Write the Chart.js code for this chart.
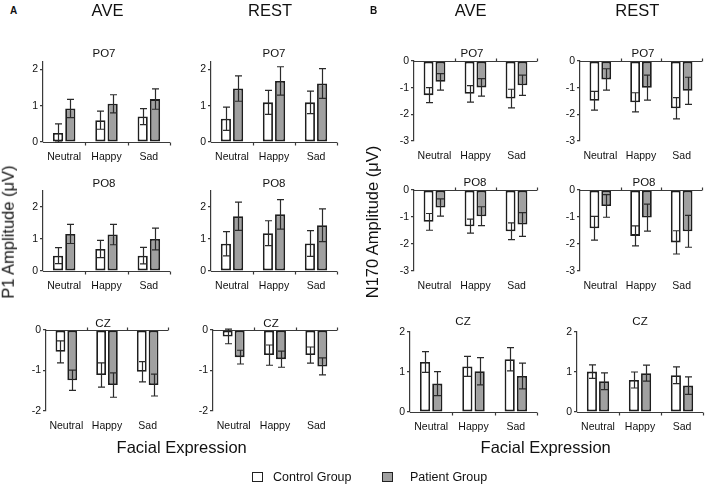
<!DOCTYPE html>
<html>
<head>
<meta charset="utf-8">
<script src="https://cdn.jsdelivr.net/npm/chart.js@4.4.0/dist/chart.umd.min.js"></script>
<style>
  body { margin: 0; width: 708px; height: 487px; position: relative; overflow: hidden; background: #fff;
         font-family: "Liberation Sans", Arial, sans-serif; color: #111; }
  .t { position: absolute; white-space: nowrap; line-height: 1; transform: translate(-50%, -50%); }
  .l { transform: translate(0, -50%); }
  .rot { transform: translate(-50%, -50%) rotate(-90deg); }
  canvas { position: absolute; }
  .box { position: absolute; width: 9px; height: 8px; border: 1.5px solid #222; }
</style>
</head>
<body>
<script>
// categories and groups
const categories = ['Neutral', 'Happy', 'Sad'];
const groups = ['Control Group', 'Patient Group'];

// P1 amplitude (uV), mean and error
const p1AvePo7Control = [0.25, 0.60, 0.70];
const p1AvePo7ControlErr = [0.25, 0.25, 0.22];
const p1AvePo7Patient = [0.92, 1.05, 1.18];
const p1AvePo7PatientErr = [0.25, 0.25, 0.28];

const p1RestPo7Control = [0.64, 1.09, 1.09];
const p1RestPo7ControlErr = [0.32, 0.33, 0.31];
const p1RestPo7Patient = [1.47, 1.68, 1.61];
const p1RestPo7PatientErr = [0.35, 0.39, 0.41];

const p1AvePo8Control = [0.48, 0.69, 0.48];
const p1AvePo8ControlErr = [0.25, 0.27, 0.26];
const p1AvePo8Patient = [1.16, 1.14, 1.00];
const p1AvePo8PatientErr = [0.30, 0.32, 0.34];

const p1RestPo8Control = [0.85, 1.18, 0.86];
const p1RestPo8ControlErr = [0.38, 0.39, 0.40];
const p1RestPo8Patient = [1.71, 1.77, 1.43];
const p1RestPo8PatientErr = [0.44, 0.46, 0.51];

const p1AveCzControl = [-0.54, -1.11, -1.03];
const p1AveCzControlErr = [0.27, 0.30, 0.25];
const p1AveCzPatient = [-1.24, -1.36, -1.36];
const p1AveCzPatientErr = [0.25, 0.30, 0.27];

const p1RestCzControl = [-0.16, -0.62, -0.62];
const p1RestCzControlErr = [0.18, 0.25, 0.20];
const p1RestCzPatient = [-0.67, -0.72, -0.90];
const p1RestCzPatientErr = [0.17, 0.20, 0.21];

// N170 amplitude (uV), mean and error
const n170AvePo7Control = [-1.28, -1.23, -1.41];
const n170AvePo7ControlErr = [0.28, 0.31, 0.35];
const n170AvePo7Patient = [-0.78, -0.99, -0.91];
const n170AvePo7PatientErr = [0.31, 0.33, 0.38];

const n170RestPo7Control = [-1.49, -1.55, -1.77];
const n170RestPo7ControlErr = [0.35, 0.36, 0.40];
const n170RestPo7Patient = [-0.69, -1.00, -1.12];
const n170RestPo7PatientErr = [0.40, 0.47, 0.51];

const n170AvePo8Control = [-1.18, -1.34, -1.53];
const n170AvePo8ControlErr = [0.31, 0.26, 0.31];
const n170AvePo8Patient = [-0.65, -0.97, -1.28];
const n170AvePo8PatientErr = [0.32, 0.35, 0.44];

const n170RestPo8Control = [-1.42, -1.70, -1.94];
const n170RestPo8ControlErr = [0.44, 0.37, 0.43];
const n170RestPo8Patient = [-0.59, -1.02, -1.53];
const n170RestPo8PatientErr = [0.42, 0.50, 0.59];

const n170AveCzControl = [1.25, 1.14, 1.32];
const n170AveCzControlErr = [0.26, 0.25, 0.29];
const n170AveCzPatient = [0.71, 1.02, 0.90];
const n170AveCzPatientErr = [0.30, 0.34, 0.32];

const n170RestCzControl = [1.01, 0.80, 0.92];
const n170RestCzControlErr = [0.17, 0.20, 0.21];
const n170RestCzPatient = [0.77, 0.97, 0.66];
const n170RestCzPatientErr = [0.21, 0.20, 0.22];

// panel layout: plot box in page pixels, axis range, title spot
const panels = [
  { title: 'PO7', c: p1AvePo7Control, ce: p1AvePo7ControlErr, p: p1AvePo7Patient, pe: p1AvePo7PatientErr, min: 0, max: 2.2, l: 43, r: 170, t: 62, b: 142, tx: 104, ty: 53.7 },
  { title: 'PO7', c: p1RestPo7Control, ce: p1RestPo7ControlErr, p: p1RestPo7Patient, pe: p1RestPo7PatientErr, min: 0, max: 2.2, l: 211, r: 337, t: 62, b: 142, tx: 274, ty: 53.7 },
  { title: 'PO8', c: p1AvePo8Control, ce: p1AvePo8ControlErr, p: p1AvePo8Patient, pe: p1AvePo8PatientErr, min: 0, max: 2.5, l: 43, r: 170, t: 191, b: 271, tx: 104, ty: 183.7 },
  { title: 'PO8', c: p1RestPo8Control, ce: p1RestPo8ControlErr, p: p1RestPo8Patient, pe: p1RestPo8PatientErr, min: 0, max: 2.5, l: 211, r: 337, t: 191, b: 271, tx: 274, ty: 183.7 },
  { title: 'CZ', c: p1AveCzControl, ce: p1AveCzControlErr, p: p1AveCzPatient, pe: p1AveCzPatientErr, min: -2, max: 0, l: 46, r: 168, t: 330, b: 411, tx: 103, ty: 323.7 },
  { title: 'CZ', c: p1RestCzControl, ce: p1RestCzControlErr, p: p1RestCzPatient, pe: p1RestCzPatientErr, min: -2, max: 0, l: 213, r: 337, t: 330, b: 411, tx: 271, ty: 323.7 },
  { title: 'PO7', c: n170AvePo7Control, ce: n170AvePo7ControlErr, p: n170AvePo7Patient, pe: n170AvePo7PatientErr, min: -3, max: 0, l: 414, r: 537, t: 61, b: 141, tx: 472, ty: 53.7 },
  { title: 'PO7', c: n170RestPo7Control, ce: n170RestPo7ControlErr, p: n170RestPo7Patient, pe: n170RestPo7PatientErr, min: -3, max: 0, l: 580, r: 702, t: 61, b: 141, tx: 643, ty: 53.7 },
  { title: 'PO8', c: n170AvePo8Control, ce: n170AvePo8ControlErr, p: n170AvePo8Patient, pe: n170AvePo8PatientErr, min: -3, max: 0, l: 414, r: 537, t: 190, b: 271, tx: 475, ty: 182.5 },
  { title: 'PO8', c: n170RestPo8Control, ce: n170RestPo8ControlErr, p: n170RestPo8Patient, pe: n170RestPo8PatientErr, min: -3, max: 0, l: 580, r: 702, t: 190, b: 271, tx: 644, ty: 182.5 },
  { title: 'CZ', c: n170AveCzControl, ce: n170AveCzControlErr, p: n170AveCzPatient, pe: n170AveCzPatientErr, min: 0, max: 2, l: 410, r: 537, t: 332, b: 412, tx: 463, ty: 321.7 },
  { title: 'CZ', c: n170RestCzControl, ce: n170RestCzControlErr, p: n170RestCzPatient, pe: n170RestCzPatientErr, min: 0, max: 2, l: 577, r: 703, t: 332, b: 412, tx: 640, ty: 321.7 }
];

const PAD_L = 40, PAD_T = 12, PAD_R = 6, PAD_B = 28;
const AXIS = '#3a3a3a';
const FONT = '"Liberation Sans", Arial';

function addText(txt, x, y, size, cls, extra) {
  const d = document.createElement('div');
  d.className = 't ' + (cls || '');
  d.textContent = txt;
  d.style.left = x + 'px';
  d.style.top = y + 'px';
  d.style.fontSize = size + 'px';
  if (extra) Object.assign(d.style, extra);
  document.body.appendChild(d);
}

// x axis line at zero, with category tick marks pointing away from the bars
const zeroAxis = {
  id: 'zeroAxis',
  afterDatasetsDraw(chart) {
    const { ctx, chartArea } = chart;
    const x = chart.scales.x, y = chart.scales.y;
    const y0 = Math.round(y.getPixelForValue(0)) + 0.5;
    const dir = y0 > (chartArea.top + chartArea.bottom) / 2 ? 1 : -1;
    const half = (chartArea.right - chartArea.left) / categories.length / 2;
    ctx.save();
    ctx.strokeStyle = AXIS;
    ctx.lineWidth = 1.2;
    ctx.beginPath();
    ctx.moveTo(chartArea.left, y0);
    ctx.lineTo(chartArea.right, y0);
    categories.forEach((c, i) => {
      const xp = Math.round(x.getPixelForValue(i) + half) + 0.5;
      ctx.moveTo(xp, y0);
      ctx.lineTo(xp, y0 + dir * 3);
    });
    ctx.stroke();
    ctx.restore();
  }
};

// error bars from each dataset's errors list
const errorBars = {
  id: 'errorBars',
  afterDatasetsDraw(chart) {
    const ctx = chart.ctx, y = chart.scales.y;
    ctx.save();
    ctx.strokeStyle = '#2a2a2a';
    ctx.lineWidth = 1.2;
    chart.data.datasets.forEach((ds, i) => {
      chart.getDatasetMeta(i).data.forEach((bar, j) => {
        const v = ds.data[j], e = ds.errors[j];
        const y1 = y.getPixelForValue(v + e), y2 = y.getPixelForValue(v - e);
        const xc = Math.round(bar.x) + 0.5;
        ctx.beginPath();
        ctx.moveTo(xc, y1); ctx.lineTo(xc, y2);
        ctx.moveTo(xc - 3.5, y1); ctx.lineTo(xc + 3.5, y1);
        ctx.moveTo(xc - 3.5, y2); ctx.lineTo(xc + 3.5, y2);
        ctx.stroke();
      });
    });
    ctx.restore();
  }
};

panels.forEach(p => {
  const w = p.r - p.l + PAD_L + PAD_R;
  const h = p.b - p.t + PAD_T + PAD_B;
  const cv = document.createElement('canvas');
  cv.width = w; cv.height = h;
  cv.style.width = w + 'px'; cv.style.height = h + 'px';
  cv.style.left = (p.l - PAD_L) + 'px';
  cv.style.top = (p.t - PAD_T) + 'px';
  document.body.appendChild(cv);

  new Chart(cv, {
    type: 'bar',
    data: {
      labels: categories,
      datasets: [
        { label: groups[0], data: p.c, errors: p.ce, backgroundColor: '#ffffff', borderColor: '#1e1e1e', borderWidth: 1.8, borderSkipped: false },
        { label: groups[1], data: p.p, errors: p.pe, backgroundColor: '#a0a0a0', borderColor: '#1e1e1e', borderWidth: 1.8, borderSkipped: false }
      ]
    },
    options: {
      responsive: false,
      animation: false,
      events: [],
      categoryPercentage: 0.58,
      barPercentage: 0.83,
      layout: { padding: { top: PAD_T, right: PAD_R, left: 0, bottom: 0 } },
      plugins: { legend: { display: false }, tooltip: { enabled: false } },
      scales: {
        x: {
          grid: { display: false, drawTicks: false },
          border: { display: false },
          ticks: { color: '#111', font: { family: FONT, size: 10.5 }, padding: 9, maxRotation: 0 },
          afterFit: s => { s.height = PAD_B; }
        },
        y: {
          min: p.min, max: p.max,
          grid: { drawOnChartArea: false, drawTicks: true, tickLength: 3, color: AXIS, lineWidth: 1.2 },
          border: { display: true, color: AXIS, width: 1.2 },
          ticks: { stepSize: 1, includeBounds: false, color: '#111', font: { family: FONT, size: 10.5 }, padding: 2 },
          afterFit: s => { s.width = PAD_L; }
        }
      }
    },
    plugins: [zeroAxis, errorBars]
  });

  addText(p.title, p.tx, p.ty, 11.5);
});

// headings and axis titles
addText('A', 13.7, 11.2, 10, '', { fontWeight: 'bold' });
addText('B', 373.7, 11.2, 10, '', { fontWeight: 'bold' });
addText('AVE', 107.5, 9.5, 16.5);
addText('REST', 270, 9.5, 16.5);
addText('AVE', 470.7, 9.5, 16.5);
addText('REST', 637.3, 9.5, 16.5);
addText('P1 Amplitude (\u03bcV)', 8, 232, 16.5, 'rot');
addText('N170 Amplitude (\u03bcV)', 372, 222, 16.5, 'rot');
addText('Facial Expression', 181.7, 446.5, 16.5);
addText('Facial Expression', 545.7, 446.5, 16.5);

// legend
function addBox(x, y, fill) {
  const b = document.createElement('div');
  b.className = 'box';
  b.style.left = x + 'px';
  b.style.top = y + 'px';
  b.style.background = fill;
  document.body.appendChild(b);
}
addBox(252, 472, '#ffffff');
addBox(382, 472, '#a0a0a0');
addText(groups[0], 273, 477.3, 12.5, 'l');
addText(groups[1], 410, 477.3, 12.5, 'l');
</script>
</body>
</html>
